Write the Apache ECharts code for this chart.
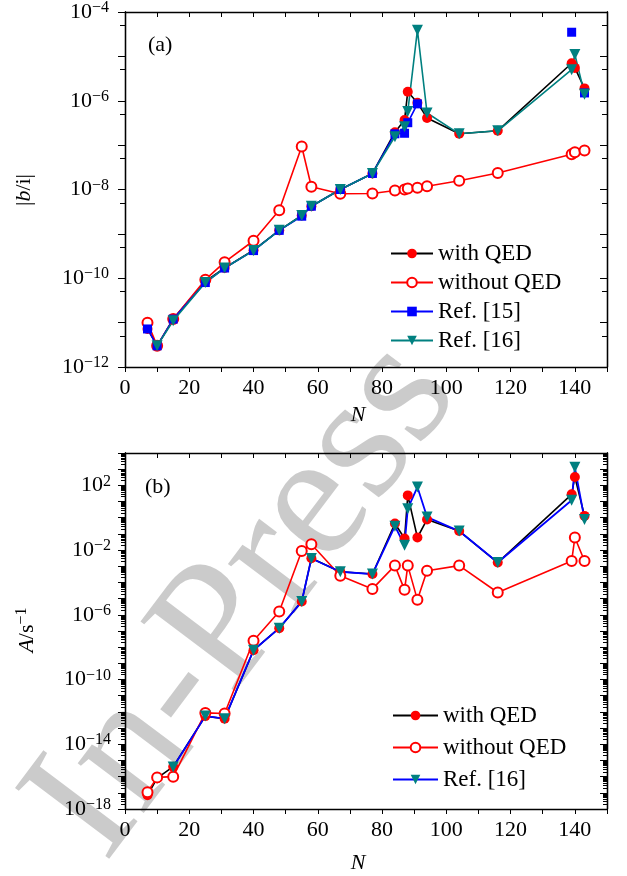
<!DOCTYPE html>
<html><head><meta charset="utf-8">
<script src="https://cdn.jsdelivr.net/npm/echarts@6/dist/echarts.min.js"></script>
<style>html,body{margin:0;padding:0;background:#fff}#c{width:627px;height:876px}</style>
</head><body><div id="c"></div>
<script>
// ---------- data ----------
const N = [7,10,15,25,31,40,48,55,58,67,77,84,87,88,91,94,104,116,139,140,143];
// panel (a): |b/i|
const a_withQED    = [7.2e-12,3e-12,1.2e-11,8.5e-11,1.7e-10,4.3e-10,1.2e-9,2.6e-9,4.2e-9,1e-8,2.3e-8,1.95e-7,3.7e-7,1.6e-6,9e-7,4.1e-7,1.8e-7,2.1e-7,7e-6,5.5e-6,1.9e-6];
const a_withoutQED = [1e-11,3e-12,1.2e-11,9.3e-11,2.3e-10,7e-10,3.4e-9,9.3e-8,1.15e-8,8e-9,8.1e-9,9.5e-9,1e-8,1.05e-8,1.1e-8,1.18e-8,1.58e-8,2.35e-8,6.2e-8,6.9e-8,7.6e-8];
const a_ref15      = [7.2e-12,3e-12,1.2e-11,8e-11,1.7e-10,4.2e-10,1.2e-9,2.5e-9,4.2e-9,1e-8,2.3e-8,1.8e-7,1.85e-7,3.2e-7,8.5e-7,null,null,null,3.5e-5,null,1.5e-6];
const a_ref16      = [null,3e-12,1.1e-11,8e-11,1.7e-10,4.2e-10,1.2e-9,2.6e-9,4.2e-9,1e-8,2.3e-8,1.55e-7,2.6e-7,5.7e-7,3.9e-5,5.3e-7,1.8e-7,2.1e-7,5e-6,1.1e-5,1.4e-6];
// panel (b): A / s^-1
const b_withQED    = [7e-18,8e-17,4.1e-16,5.5e-13,3.8e-13,6.5e-9,1.5e-7,6.6e-6,3.1e-3,4.6e-4,3.3e-4,0.44,5.2e-2,24,6e-2,0.78,0.15,1.7e-3,28,330,1.3];
const b_withoutQED = [1.1e-17,9e-17,1e-16,8.7e-13,8e-13,2.5e-8,1.6e-6,8.7e-3,2.3e-2,2.6e-4,4e-5,1.1e-3,3.5e-5,1.1e-3,8.4e-6,5.3e-4,1.1e-3,2.4e-5,2.1e-3,6e-2,2.1e-3];
const b_ref16      = [null,null,4e-16,5.5e-13,3.8e-13,6.5e-9,1.5e-7,6.6e-6,3e-3,4.6e-4,3.3e-4,0.3,2e-2,3.6,79,1.1,0.15,1.7e-3,12,1300,0.78];
// axis ticks
const xTicks = [0,20,40,60,80,100,120,140];
const aDecades = [-12,-11,-10,-9,-8,-7,-6,-5,-4];
const aLabelExp = [-12,-10,-8,-6,-4];
const bDecades = [-18,-17,-16,-15,-14,-13,-12,-11,-10,-9,-8,-7,-6,-5,-4,-3,-2,-1,0,1,2,3,4];
const bLabelExp = [-18,-14,-10,-6,-2,2];

// ---------- helpers ----------
const FONT = 'Liberation Serif';
const pairs = arr => arr.map((v,i) => [N[i], v == null ? '-' : v]);
const pw = e => Math.pow(10, e);
const aMajor = aDecades.map(pw);
const aMinor = aDecades.slice(0,-1).map(e => 5*pw(e));
const bMajor = bDecades.map(pw);
const bMinor = [];
bDecades.slice(0,-1).forEach(e => { for (let k=2;k<=9;k++) bMinor.push(k*pw(e)); });
const supFmt = v => { const e = Math.round(Math.log10(v)); return '{b|10}{s|' + (e<0 ? '\u2212'+(-e) : e) + '}'; };
const rich = { b:{fontFamily:FONT,fontSize:22,color:'#000',lineHeight:22}, s:{fontFamily:FONT,fontSize:16,color:'#000',lineHeight:16,padding:[0,0,8,0]} };

function xAxes(grid) {
  const base = {type:'value', gridIndex:grid, min:0, max:150, interval:10,
    axisLine:{show:true,lineStyle:{color:'#000',width:1.3}}, splitLine:{show:false}};
  return [
    Object.assign({}, base, {position:'bottom',
      axisTick:{show:true,inside:false,length:5,lineStyle:{color:'#000',width:1}},
      axisLabel:{show:true,margin:10,fontFamily:FONT,fontSize:22,color:'#000',
        formatter: v => xTicks.indexOf(v) >= 0 ? String(v) : ''}}),
    Object.assign({}, base, {position:'top',
      axisTick:{show:true,inside:true,length:5,lineStyle:{color:'#000',width:1}},
      axisLabel:{show:false}})
  ];
}
function yAxes(grid, min, max, major, minor, labels, majLen, minLen, margin) {
  const base = {type:'log', logBase:10, gridIndex:grid, min:min, max:max, splitLine:{show:false},
    axisLine:{show:true,lineStyle:{color:'#000',width:1.3}}};
  return [
    Object.assign({}, base, {position:'left',
      axisTick:{show:true,inside:false,length:majLen,customValues:major,lineStyle:{color:'#000',width:1}},
      axisLabel:{show:true,margin:margin,customValues:labels,formatter:supFmt,rich:rich}}),
    Object.assign({}, base, {position:'left',
      axisTick:{show:true,inside:false,length:minLen,customValues:minor,lineStyle:{color:'#000',width:1}},
      axisLabel:{show:false}}),
    Object.assign({}, base, {position:'right',
      axisTick:{show:true,inside:true,length:majLen,customValues:major,lineStyle:{color:'#000',width:1}},
      axisLabel:{show:false}}),
    Object.assign({}, base, {position:'right',
      axisTick:{show:true,inside:true,length:minLen,customValues:minor,lineStyle:{color:'#000',width:1}},
      axisLabel:{show:false}})
  ];
}

const RED='#ff0000', BLUE='#0000ff', TEAL='#008080';
function mk(name, data, xi, yi, o) {
  return Object.assign({type:'line', name:name, data:pairs(data), xAxisIndex:xi, yAxisIndex:yi,
    connectNulls:false, animation:false, symbolSize:10, z:3}, o);
}
const sWith = (nm,d,xi,yi) => mk(nm,d,xi,yi,{symbol:'circle',lineStyle:{color:'#000',width:1.6},itemStyle:{color:RED}});
const sWithout = (nm,d,xi,yi) => mk(nm,d,xi,yi,{symbol:'emptyCircle',lineStyle:{color:RED,width:1.6},itemStyle:{color:RED,borderWidth:2}});

const chart = echarts.init(document.getElementById('c'), null, {renderer:'canvas'});
const ax = yAxes(0, 1e-12, 1e-4, aMajor, aMinor, aLabelExp.map(pw), 7, 5, 16);
const bx = yAxes(1, 1e-18, 1e4, bMajor, bMinor, bLabelExp.map(pw), 7, 4, 14);
chart.setOption({
  animation:false,
  grid:[{left:125, top:12, width:482, height:355},{left:125, top:453, width:482, height:356}],
  xAxis: xAxes(0).concat(xAxes(1)),
  yAxis: ax.concat(bx),
  legend:[
    {left:385, top:237, orient:'vertical', itemWidth:42, itemHeight:12, itemGap:6,
     textStyle:{fontFamily:FONT,fontSize:23,color:'#000'},
     data:['with QED','without QED','Ref. [15]','Ref. [16]']},
    {left:387, top:699, orient:'vertical', itemWidth:45, itemHeight:12, itemGap:9,
     textStyle:{fontFamily:FONT,fontSize:23,color:'#000'},
     data:['with QED','without QED','Ref. [16] ']}
  ],
  series:[
    sWith('with QED', a_withQED, 0, 0),
    sWithout('without QED', a_withoutQED, 0, 0),
    mk('Ref. [15]', a_ref15, 0, 0, {symbol:'rect',symbolSize:9,lineStyle:{color:BLUE,width:1.6},itemStyle:{color:BLUE}}),
    mk('Ref. [16]', a_ref16, 0, 0, {symbol:'triangle',symbolRotate:180,symbolSize:11,lineStyle:{color:TEAL,width:1.6},itemStyle:{color:TEAL}}),
    sWith('with QED', b_withQED, 2, 4),
    sWithout('without QED', b_withoutQED, 2, 4),
    mk('Ref. [16] ', b_ref16, 2, 4, {symbol:'triangle',symbolRotate:180,symbolSize:11,lineStyle:{color:BLUE,width:1.8},itemStyle:{color:TEAL}})
  ],
  graphic:[
    {type:'text', z:0, silent:true, x:245, y:600, rotation:53*Math.PI/180,
     style:{text:'In-Press', fill:'rgba(160,160,160,0.55)', font:'180px "Liberation Serif"', textAlign:'center', textVerticalAlign:'middle'}},
    {type:'text', z:10, x:148, y:34, style:{text:'(a)', fill:'#000', font:'22px "Liberation Serif"'}},
    {type:'text', z:10, x:145, y:476, style:{text:'(b)', fill:'#000', font:'22px "Liberation Serif"'}},
    {type:'text', z:10, x:358, y:404, style:{text:'N', fill:'#000', font:'italic 22px "Liberation Serif"', textAlign:'center'}},
    {type:'text', z:10, x:358, y:852, style:{text:'N', fill:'#000', font:'italic 22px "Liberation Serif"', textAlign:'center'}},
    {type:'text', z:10, x:24, y:190, rotation:Math.PI/2,
     style:{text:'|{i|b}/i|', fill:'#000', font:'22px "Liberation Serif"', textAlign:'center', textVerticalAlign:'middle',
       rich:{i:{fontFamily:FONT,fontStyle:'italic',fontSize:22,color:'#000'}}}},
    {type:'text', z:10, x:27, y:630, rotation:Math.PI/2,
     style:{text:'{i|A}/s{s|\u22121}', fill:'#000', font:'22px "Liberation Serif"', textAlign:'center', textVerticalAlign:'middle',
       rich:{i:{fontFamily:FONT,fontStyle:'italic',fontSize:22,color:'#000',lineHeight:22},
             s:{fontFamily:FONT,fontSize:16,color:'#000',lineHeight:16,padding:[0,0,10,0]}}}}
  ]
});
</script></body></html>
